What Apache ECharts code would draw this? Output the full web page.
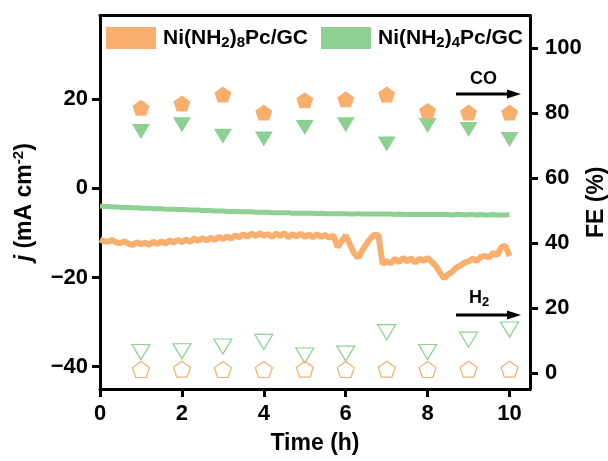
<!DOCTYPE html>
<html>
<head>
<meta charset="utf-8">
<script src="https://cdn.jsdelivr.net/npm/echarts@6/dist/echarts.min.js"></script>
<style>
  html, body { margin: 0; padding: 0; background: #ffffff; }
  #chart { width: 608px; height: 461px; }
</style>
</head>
<body>
<div id="chart"></div>
<script>
// Faradaic efficiency sampling points (h)
const feTimes = [1, 2, 3, 4, 5, 6, 7, 8, 9, 10];

// FE (%) for CO and H2 on each electrode
const coFE_NH2_8 = [81.6, 82.9, 85.7, 80.1, 83.9, 84.2, 85.7, 80.6, 80.1, 80.1];
const coFE_NH2_4 = [74.3, 76.4, 72.8, 72.0, 75.5, 76.4, 70.4, 76.1, 74.9, 71.8];
const h2FE_NH2_8 = [1.0, 1.1, 1.0, 1.0, 1.1, 1.0, 1.1, 1.0, 1.1, 1.1];
const h2FE_NH2_4 = [6.4, 6.6, 8.1, 9.5, 5.3, 5.9, 12.5, 6.4, 10.2, 13.3];

// Chronoamperometry traces, one reading every 0.1 h from 0 to 10 h
const traceStep = 0.1;
const j_NH2_8 = [
  -11.5, -11.9, -12.0, -11.6, -12.2, -12.3, -11.9, -12.5, -12.7, -12.1, -12.6,
  -12.2, -12.7, -12.0, -12.5, -11.9, -12.4, -11.7, -12.2, -11.6, -12.1,
  -11.5, -12.0, -11.3, -11.8, -11.2, -11.7, -11.1, -11.6, -10.9, -11.4,
  -10.8, -11.3, -10.6, -11.0, -10.3, -10.9, -10.2, -10.7, -10.1, -10.6,
  -10.3, -10.9, -10.2, -10.7, -10.1, -11.0, -10.3, -10.8, -10.2, -10.9,
  -10.4, -11.0, -10.3, -10.9, -10.5, -11.1, -10.6, -13.2, -11.9, -10.6,
  -12.5, -14.5, -15.6, -14.0, -12.6, -11.3, -10.4, -10.6, -17.0, -16.3,
  -16.9, -15.8, -16.6, -15.6, -16.4, -15.7, -16.7, -15.8, -16.3, -15.6,
  -16.5, -17.4, -18.9, -20.2, -19.3, -18.7, -17.8, -17.3, -16.7, -16.4,
  -15.8, -16.3, -15.4, -15.2, -15.5, -14.5, -15.0, -13.2, -12.9, -15.2
];
const j_NH2_4 = [
  -4.0, -4.1, -4.1, -4.2, -4.2, -4.3, -4.3, -4.3, -4.4, -4.4, -4.5,
  -4.5, -4.5, -4.6, -4.6, -4.6, -4.7, -4.7, -4.7, -4.8, -4.8,
  -4.8, -4.9, -4.9, -4.9, -5.0, -5.0, -5.0, -5.1, -5.1, -5.1,
  -5.2, -5.2, -5.2, -5.3, -5.3, -5.3, -5.3, -5.4, -5.4, -5.4,
  -5.4, -5.5, -5.5, -5.5, -5.5, -5.5, -5.6, -5.6, -5.6, -5.6,
  -5.6, -5.6, -5.7, -5.6, -5.7, -5.7, -5.7, -5.7, -5.7, -5.7,
  -5.8, -5.8, -5.7, -5.8, -5.8, -5.8, -5.8, -5.8, -5.8, -5.8,
  -5.8, -5.9, -5.8, -5.9, -5.9, -5.9, -5.9, -5.9, -5.9, -5.9,
  -5.9, -5.9, -5.9, -5.9, -5.9, -6.0, -5.9, -5.9, -6.0, -5.9,
  -5.9, -6.0, -5.9, -6.0, -6.0, -5.9, -6.0, -6.0, -6.0, -5.9
];

// Axis ticks
const timeTicks = [0, 2, 4, 6, 8, 10];
const jTicks = [-40, -20, 0, 20];
const feTicks = [0, 20, 40, 60, 80, 100];

const ORANGE = '#F8AE6D';
const GREEN = '#8DD092';
const PENTAGON = 'path://M50,0 L97.6,34.5 L79.4,90.5 L20.6,90.5 L2.4,34.5 Z';
const FONT = '"Liberation Sans", Arial, sans-serif';

const pairs = (xs, ys) => ys.map((y, i) => [xs[i], y]);
const trace = ys => ys.map((y, i) => [+(i * traceStep).toFixed(2), y]);

const legendRich = {
  g: { width: 2 },
  a: { fontSize: 21, fontWeight: 'bold', fontFamily: FONT, color: '#000' },
  s: { fontSize: 15, fontWeight: 'bold', fontFamily: FONT, color: '#000', padding: [10, 0, 0, 0] }
};
const legendName = n => name =>
  '{g|}{a|Ni(NH}{s|2}{a|)}{s|' + n + '}{a|Pc/GC}';

const chart = echarts.init(document.getElementById('chart'), null, { renderer: 'canvas' });

const option = {
  backgroundColor: '#ffffff',
  animation: false,
  grid: { left: 100, right: 78, top: 15.5, bottom: 72, outerBoundsMode: 'none', containLabel: false },
  legend: [
    {
      left: 101, top: 22, itemWidth: 50, itemHeight: 22,
      data: [{ name: 'Ni(NH2)8Pc/GC', icon: 'rect' }],
      formatter: legendName(8),
      textStyle: { rich: legendRich }
    },
    {
      left: 316, top: 22, itemWidth: 50, itemHeight: 22,
      data: [{ name: 'Ni(NH2)4Pc/GC', icon: 'rect' }],
      formatter: legendName(4),
      textStyle: { rich: legendRich }
    }
  ],
  xAxis: [
    {
      type: 'value', min: 0, max: 10.5, position: 'bottom',
      name: 'Time (h)', nameLocation: 'middle', nameGap: 43, nameMoveOverlap: false,
      nameTextStyle: { fontSize: 23, fontWeight: 'bold', fontFamily: FONT, color: '#000' },
      axisLine: { show: true, onZero: false, lineStyle: { color: '#000', width: 3 } },
      axisTick: { show: true, length: 8, inside: false, customValues: timeTicks, lineStyle: { color: '#000', width: 3 } },
      axisLabel: { customValues: timeTicks, margin: 14, fontSize: 22, fontWeight: 'bold', fontFamily: FONT, color: '#000' },
      splitLine: { show: false }
    },
    {
      type: 'value', min: 0, max: 10.5, position: 'top',
      axisLine: { show: true, onZero: false, lineStyle: { color: '#000', width: 3 } },
      axisTick: { show: false }, axisLabel: { show: false }, splitLine: { show: false }
    }
  ],
  yAxis: [
    {
      type: 'value', min: -45, max: 38.7, position: 'left',
      name: '{i|j}{a| (mA cm}{p|-2}{a|)}', nameLocation: 'middle', nameGap: 62, nameRotate: 90,
      nameMoveOverlap: false,
      nameTextStyle: {
        rich: {
          i: { fontSize: 23, fontWeight: 'bold', fontStyle: 'italic', fontFamily: FONT, color: '#000' },
          a: { fontSize: 23, fontWeight: 'bold', fontFamily: FONT, color: '#000' },
          p: { fontSize: 15, fontWeight: 'bold', fontFamily: FONT, color: '#000', padding: [0, 0, 12, 0] }
        }
      },
      axisLine: { show: true, onZero: false, lineStyle: { color: '#000', width: 3 } },
      axisTick: { show: true, length: 8, customValues: jTicks, lineStyle: { color: '#000', width: 3 } },
      axisLabel: { customValues: jTicks, margin: 12, fontSize: 22, fontWeight: 'bold', fontFamily: FONT, color: '#000',
        formatter: v => (v < 0 ? '\u2212' + Math.abs(v) : String(v)) },
      splitLine: { show: false }
    },
    {
      type: 'value', min: -5, max: 110, position: 'right',
      name: 'FE (%)', nameLocation: 'middle', nameGap: 55, nameRotate: 90, nameMoveOverlap: false,
      nameTextStyle: { fontSize: 23, fontWeight: 'bold', fontFamily: FONT, color: '#000' },
      axisLine: { show: true, onZero: false, lineStyle: { color: '#000', width: 3 } },
      axisTick: { show: true, length: 8, customValues: feTicks, lineStyle: { color: '#000', width: 3 } },
      axisLabel: { customValues: feTicks, margin: 15, fontSize: 22, fontWeight: 'bold', fontFamily: FONT, color: '#000' },
      splitLine: { show: false }
    }
  ],
  series: [
    {
      name: 'Ni(NH2)4Pc/GC', type: 'line', xAxisIndex: 0, yAxisIndex: 0,
      data: trace(j_NH2_4), showSymbol: false, symbol: 'none',
      itemStyle: { color: GREEN },
      lineStyle: { color: GREEN, width: 5 }, z: 2
    },
    {
      name: 'Ni(NH2)8Pc/GC', type: 'line', xAxisIndex: 0, yAxisIndex: 0,
      data: trace(j_NH2_8), showSymbol: false, symbol: 'none',
      itemStyle: { color: ORANGE },
      lineStyle: { color: ORANGE, width: 6 }, z: 2
    },
    {
      name: 'CO FE 4', type: 'scatter', xAxisIndex: 0, yAxisIndex: 1,
      data: pairs(feTimes, coFE_NH2_4), symbol: 'triangle', symbolRotate: 180, symbolSize: [18, 15],
      itemStyle: { color: GREEN, opacity: 1 }, z: 3
    },
    {
      name: 'CO FE 8', type: 'scatter', xAxisIndex: 0, yAxisIndex: 1,
      data: pairs(feTimes, coFE_NH2_8), symbol: PENTAGON, symbolSize: [17, 16],
      itemStyle: { color: ORANGE, opacity: 1 }, z: 4
    },
    {
      name: 'H2 FE 4', type: 'scatter', xAxisIndex: 0, yAxisIndex: 1,
      data: pairs(feTimes, h2FE_NH2_4), symbol: 'triangle', symbolRotate: 180, symbolSize: [18, 15],
      itemStyle: { color: 'rgba(255,255,255,0)', borderColor: GREEN, borderWidth: 1.2, opacity: 1 }, z: 3
    },
    {
      name: 'H2 FE 8', type: 'scatter', xAxisIndex: 0, yAxisIndex: 1,
      data: pairs(feTimes, h2FE_NH2_8), symbol: PENTAGON, symbolSize: [17, 16],
      itemStyle: { color: 'rgba(255,255,255,0)', borderColor: ORANGE, borderWidth: 1.2, opacity: 1 }, z: 4
    }
  ],
  graphic: [
    // CO label with arrow
    { type: 'text', left: 470, top: 70, style: { text: 'CO', fontSize: 18, fontWeight: 'bold', fontFamily: FONT, fill: '#000' } },
    { type: 'line', shape: { x1: 456, y1: 94, x2: 510, y2: 94 }, style: { stroke: '#000', lineWidth: 3 } },
    { type: 'polygon', shape: { points: [[507, 89.5], [521, 94], [507, 98.5]] }, style: { fill: '#000' } },
    // H2 label with arrow
    {
      type: 'text', left: 469, top: 289,
      style: {
        text: '{a|H}{s|2}',
        rich: {
          a: { fontSize: 18, fontWeight: 'bold', fontFamily: FONT, fill: '#000' },
          s: { fontSize: 13, fontWeight: 'bold', fontFamily: FONT, fill: '#000', padding: [9, 0, 0, 0] }
        }
      }
    },
    { type: 'line', shape: { x1: 456, y1: 315, x2: 510, y2: 315 }, style: { stroke: '#000', lineWidth: 3 } },
    { type: 'polygon', shape: { points: [[507, 310.5], [521, 315], [507, 319.5]] }, style: { fill: '#000' } }
  ]
};

chart.setOption(option);
</script>
</body>
</html>
